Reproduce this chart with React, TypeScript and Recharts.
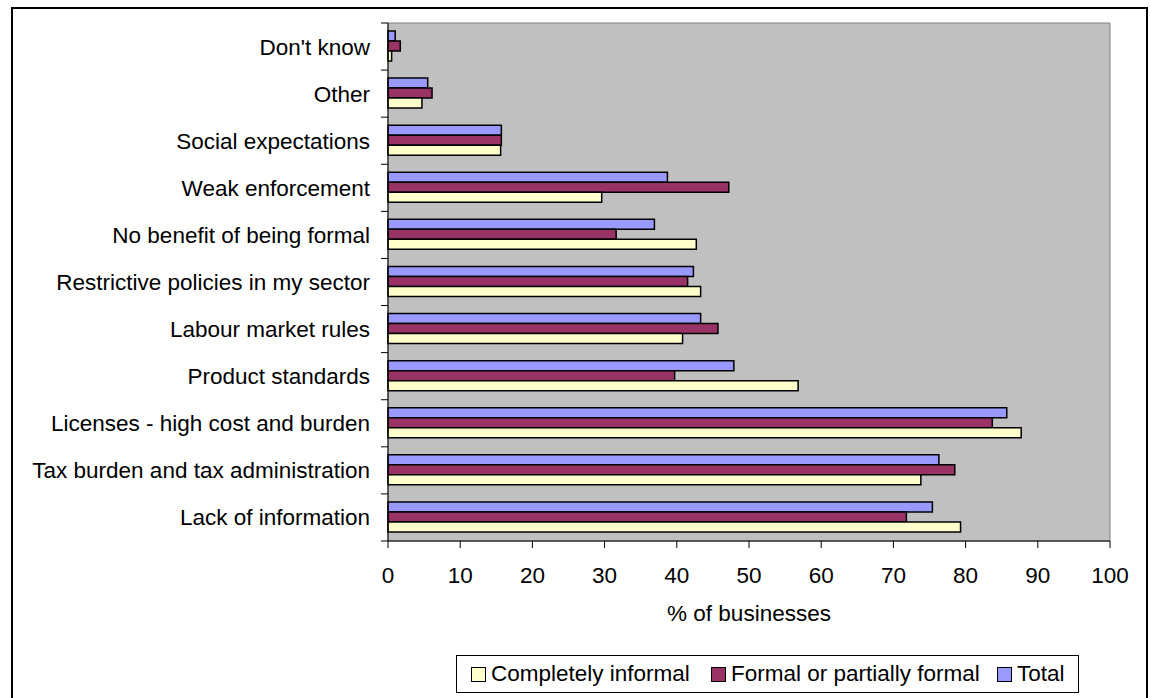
import { Bar, BarChart, ReferenceArea, XAxis, YAxis } from "recharts";

const categories = [
  "Don't know",
  "Other",
  "Social expectations",
  "Weak enforcement",
  "No benefit of being formal",
  "Restrictive policies in my sector",
  "Labour market rules",
  "Product standards",
  "Licenses - high cost and burden",
  "Tax burden and tax administration",
  "Lack of information",
];

const totalValues = [1.0, 5.5, 15.7, 38.7, 36.9, 42.3, 43.3, 47.9, 85.7, 76.3, 75.4];
const formalValues = [1.7, 6.1, 15.7, 47.2, 31.6, 41.5, 45.7, 39.7, 83.7, 78.5, 71.8];
const informalValues = [0.5, 4.7, 15.6, 29.6, 42.7, 43.3, 40.8, 56.8, 87.7, 73.8, 79.3];

const xTicks = [0, 10, 20, 30, 40, 50, 60, 70, 80, 90, 100];

// legend order (bars are drawn in reverse so Total sits on top of each group)
const series = [
  { key: "informal", name: "Completely informal", color: "#ffffcc" },
  { key: "formal", name: "Formal or partially formal", color: "#993366" },
  { key: "total", name: "Total", color: "#9999ff" },
];

const rows = categories.map((name, i) => ({
  name,
  total: totalValues[i],
  formal: formalValues[i],
  informal: informalValues[i],
}));

const FONT = '"Liberation Sans", Arial, sans-serif';
const FONT_SIZE = 22.5;
const TICK_SIZE = 7;
const TICK_MARGIN = 11;
const BAND_HALF = 518 / categories.length / 2;

function CategoryTick(props: any) {
  const { x, y, payload, index, visibleTicksCount } = props;
  const half = payload?.offset || BAND_HALF;
  const x1 = x + TICK_MARGIN;
  const x2 = x1 + TICK_SIZE;
  return (
    <g>
      <line x1={x1} x2={x2} y1={y - half} y2={y - half} stroke="#000" />
      {index === visibleTicksCount - 1 && (
        <line x1={x1} x2={x2} y1={y + half} y2={y + half} stroke="#000" />
      )}
      <text x={x} y={y} dy="0.355em" textAnchor="end" fontSize={FONT_SIZE} fontFamily={FONT} fill="#000">
        {payload.value}
      </text>
    </g>
  );
}

export default function App() {
  return (
    <div style={{ position: "absolute", left: 0, top: 0, width: 1150, height: 698, overflow: "hidden", background: "#fff" }}>
      <div
        style={{
          position: "absolute",
          left: 11,
          top: 7,
          width: 1137,
          height: 740,
          border: "2px solid #000",
          boxSizing: "border-box",
        }}
      />
      <div style={{ position: "absolute", left: 0, top: 0 }}>
        <BarChart
          width={1150}
          height={698}
          data={rows}
          layout="vertical"
          margin={{ top: 23, right: 40, bottom: 67, left: 0 }}
          barCategoryGap={8}
          barGap={0}
          style={{ fontFamily: FONT }}
        >
          <ReferenceArea
            x1={0}
            x2={100}
            fill="#c0c0c0"
            fillOpacity={1}
            stroke="#808080"
            strokeWidth={1}
          />
          <XAxis
            type="number"
            domain={[0, 100]}
            ticks={xTicks}
            interval={0}
            height={90}
            tickSize={TICK_SIZE}
            tickMargin={19}
            axisLine={{ stroke: "#000" }}
            tickLine={{ stroke: "#000" }}
            tick={{ fill: "#000", fontSize: FONT_SIZE, fontFamily: FONT }}
            label={{ value: "% of businesses", position: "insideTop", offset: 64, fill: "#000", fontSize: FONT_SIZE, fontFamily: FONT }}
          />
          <YAxis
            type="category"
            dataKey="name"
            width={388}
            interval={0}
            tickSize={TICK_SIZE}
            tickMargin={TICK_MARGIN}
            tickLine={false}
            axisLine={{ stroke: "#000" }}
            tick={<CategoryTick />}
          />
          {[...series].reverse().map((s) => (
            <Bar
              key={s.key}
              dataKey={s.key}
              name={s.name}
              fill={s.color}
              stroke="#000"
              strokeWidth={1.5}
              isAnimationActive={false}
            />
          ))}
        </BarChart>
      </div>
      <div
        style={{
          position: "absolute",
          left: 456,
          top: 655,
          width: 623,
          height: 38,
          border: "1px solid #000",
          boxSizing: "border-box",
          fontFamily: FONT,
          fontSize: FONT_SIZE,
          color: "#000",
        }}
      >
        {series.map((s, i) => (
          <div
            key={s.key}
            style={{
              position: "absolute",
              left: [14, 254, 540][i],
              top: 0,
              height: 36,
              display: "flex",
              alignItems: "center",
              whiteSpace: "nowrap",
            }}
          >
            <span
              style={{
                display: "inline-block",
                width: 13,
                height: 13,
                border: "1px solid #000",
                background: s.color,
                marginRight: 5,
              }}
            />
            <span>{s.name}</span>
          </div>
        ))}
      </div>
    </div>
  );
}
